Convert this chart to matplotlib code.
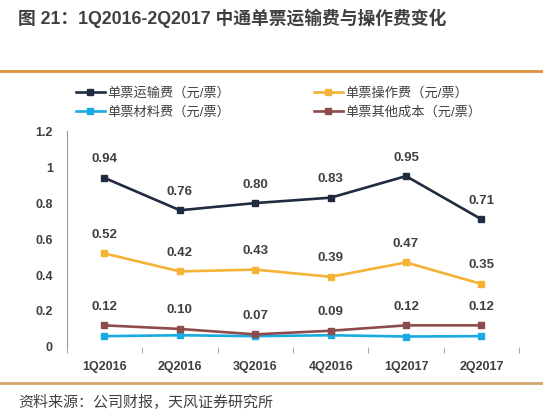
import matplotlib.pyplot as plt
import matplotlib.lines as mlines
import numpy as np

plt.rcParams['font.family'] = ['Liberation Sans', 'Noto Sans CJK SC', 'DejaVu Sans']

# Data
quarters = ['1Q2016', '2Q2016', '3Q2016', '4Q2016', '1Q2017', '2Q2017']
transport = [0.94, 0.76, 0.80, 0.83, 0.95, 0.71]
operation = [0.52, 0.42, 0.43, 0.39, 0.47, 0.35]
material = [0.06, 0.065, 0.06, 0.065, 0.058, 0.06]
other = [0.12, 0.10, 0.07, 0.09, 0.12, 0.12]

y_ticks = [0, 0.2, 0.4, 0.6, 0.8, 1.0, 1.2]
y_tick_labels = ['0', '0.2', '0.4', '0.6', '0.8', '1', '1.2']

series = [
    ('单票运输费（元/票）', transport, '#1f2b3e', True),
    ('单票操作费（元/票）', operation, '#f5b335', True),
    ('单票材料费（元/票）', material, '#19aae2', False),
    ('单票其他成本（元/票）', other, '#8e4b4b', True),
]

fig = plt.figure(figsize=(5.43, 4.15), dpi=100)
ax = fig.add_axes([0.123, 0.164, 0.833, 0.52])
x = np.arange(len(quarters))

for name, vals, color, labelled in series:
    ax.plot(x, vals, color=color, lw=1.9, marker='s', ms=4.8, label=name)
    if labelled:
        for xi, v in zip(x, vals):
            ax.annotate(f'{v:.2f}', (xi, v), xytext=(0, 9), textcoords='offset points',
                        ha='center', va='bottom', fontsize=9.5, fontweight='bold', color='#404040')

ax.set_xlim(-0.5, len(quarters) - 0.5)
ax.set_ylim(0, 1.2)
ax.set_yticks(y_ticks)
ax.set_yticklabels(y_tick_labels)
ax.set_xticks(x)
ax.set_xticklabels(quarters)
ax.set_xticks(np.arange(-0.5, len(quarters)), minor=True)
ax.tick_params(axis='x', which='major', length=0, pad=10)
ax.tick_params(axis='x', which='minor', length=4, color='#999999', direction='out')
ax.tick_params(axis='y', length=0, pad=10)
for lab in ax.get_xticklabels() + ax.get_yticklabels():
    lab.set_fontweight('bold')
    lab.set_fontsize(9)
    lab.set_color('#404040')
for s in ['top', 'right', 'bottom']:
    ax.spines[s].set_visible(False)
ax.spines['left'].set_color('#999999')

handles, labels = ax.get_legend_handles_labels()
order = [0, 2, 1, 3]
leg = fig.legend([handles[i] for i in order], [labels[i] for i in order],
                 loc='upper left', bbox_to_anchor=(0.13, 0.802), ncol=2, frameon=False,
                 fontsize=9.5, handlelength=2.2, handletextpad=0.2, columnspacing=6.3,
                 labelspacing=0.45, borderaxespad=0)
for t in leg.get_texts():
    t.set_color('#404040')

fig.text(0.033, 0.955, '图 21：1Q2016-2Q2017 中通单票运输费与操作费变化',
         fontsize=12.8, fontweight='bold', color='#404040', va='center')
fig.add_artist(mlines.Line2D([0.0, 1.0], [0.829, 0.829], color='#e0913a', lw=2))
fig.add_artist(mlines.Line2D([0.0, 1.0], [0.077, 0.077], color='#d4a66a', lw=2))
fig.text(0.033, 0.03, '资料来源：公司财报，天风证券研究所', fontsize=10.8, color='#404040', va='center')

fig.savefig('out.png', dpi=100)
